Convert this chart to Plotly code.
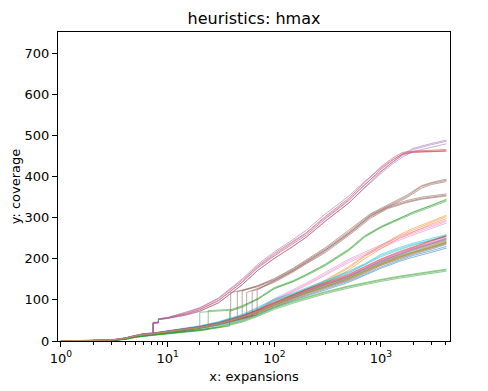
import plotly.graph_objects as go

# ---------------- data ----------------
XB = [1, 3, 4, 5, 7, 10, 15, 20, 30, 50, 70, 100, 150, 200, 300, 500, 700, 1000, 1500, 2000, 3000, 4100]

BLUE_1 = [0, 1, 5, 11, 16, 21, 26, 31, 39, 54, 67, 84, 101, 112, 126, 146, 162, 180, 197, 208, 220, 230]
BLUE_2 = [0, 2, 6, 12, 17, 22, 27, 32, 41, 56, 70, 87, 104, 115, 130, 149, 165, 184, 200, 211, 224, 235]
BLUE_3 = [0, 1, 5, 10, 15, 20, 25, 30, 38, 52, 65, 82, 99, 110, 124, 143, 160, 177, 194, 204, 216, 226]

ORANGE_1 = [0, 2, 7, 13, 18, 24, 29, 34, 43, 59, 73, 92, 110, 124, 145, 178, 205, 230, 256, 270, 289, 303]
ORANGE_2 = [0, 2, 6, 12, 17, 23, 28, 33, 42, 57, 71, 89, 107, 121, 141, 173, 200, 225, 251, 265, 285, 298]
ORANGE_3 = [0, 2, 7, 13, 18, 24, 30, 35, 44, 60, 74, 93, 112, 126, 148, 181, 208, 233, 259, 274, 292, 306]

GU_X1 = [1, 3, 4, 5, 7, 10, 15, 20, 20, 30, 40, 50, 70, 100, 150, 200, 300, 500, 700, 1000, 1500, 2000, 3000, 4100]
GU_Y1 = [0, 1, 5, 10, 15, 20, 24, 27, 70, 73, 75, 84, 104, 130, 147, 162, 187, 224, 256, 279, 299, 313, 330, 343]
GU_X2 = [1, 3, 4, 5, 7, 10, 15, 20, 24, 24, 40, 50, 70, 100, 150, 200, 300, 500, 700, 1000, 1500, 2000, 3000, 4100]
GU_Y2 = [0, 1, 4, 9, 14, 19, 23, 26, 28, 74, 77, 86, 102, 127, 144, 159, 183, 220, 252, 276, 296, 310, 327, 340]
GU_X3 = [1, 3, 4, 5, 7, 10, 15, 20, 30, 38, 38, 50, 70, 100, 150, 200, 300, 500, 700, 1000, 1500, 2000, 3000, 4100]
GU_Y3 = [0, 1, 5, 10, 15, 20, 25, 28, 33, 36, 72, 82, 101, 128, 145, 161, 185, 222, 254, 277, 298, 314, 331, 345]

XT = [1, 3, 4, 5, 6, 7.3, 7.3, 8.2, 8.2, 10, 15, 20, 30, 50, 70, 100, 150, 200, 300, 500, 700, 1000, 1300, 1600, 2000, 3000, 4100]
RED_1 = [0, 2, 7, 13, 18, 19, 44, 45, 53, 56, 66, 76, 98, 143, 178, 207, 236, 258, 297, 342, 379, 418, 441, 456, 460, 462, 463]
RED_2 = [0, 2, 7, 13, 17, 18, 43, 44, 52, 55, 64, 73, 93, 137, 172, 201, 230, 253, 291, 336, 373, 412, 436, 454, 459, 461, 462]
RED_3 = [0, 2, 7, 13, 18, 19, 45, 46, 54, 57, 69, 80, 103, 148, 183, 213, 242, 264, 303, 348, 385, 424, 446, 459, 462, 464, 466]
PURPLE_1 = [0, 2, 7, 13, 18, 19, 44, 45, 53, 56, 67, 77, 99, 144, 180, 210, 240, 262, 300, 344, 381, 414, 437, 452, 466, 478, 486]
PURPLE_2 = [0, 2, 7, 13, 18, 19, 45, 46, 54, 57, 70, 81, 105, 151, 187, 217, 247, 270, 309, 353, 388, 421, 442, 456, 469, 481, 489]
PURPLE_3 = [0, 2, 7, 12, 17, 18, 43, 44, 52, 55, 63, 72, 93, 137, 172, 201, 231, 253, 292, 336, 372, 408, 432, 448, 461, 472, 480]

BA_X1 = [1, 3, 4, 5, 7, 10, 15, 20, 30, 39, 39, 50, 70, 100, 150, 200, 300, 500, 800, 1150, 1750, 2400, 3000, 4100]
BA_Y1 = [0, 1, 6, 12, 17, 23, 29, 35, 45, 54, 118, 124, 134, 150, 175, 195, 224, 266, 308, 328, 352, 376, 384, 391]
BA_X2 = [1, 3, 4, 5, 7, 10, 15, 20, 30, 45, 45, 50, 70, 100, 150, 200, 300, 500, 800, 1150, 1750, 2400, 3000, 4100]
BA_Y2 = [0, 1, 6, 12, 17, 23, 28, 34, 44, 55, 120, 123, 132, 148, 172, 192, 221, 262, 305, 325, 349, 372, 381, 388]
BA_X3 = [1, 3, 4, 5, 7, 10, 15, 20, 30, 50, 50, 70, 100, 150, 200, 300, 500, 800, 1150, 1750, 2400, 3000, 4100]
BA_Y3 = [0, 1, 5, 11, 16, 22, 27, 33, 43, 57, 122, 135, 152, 177, 198, 227, 270, 310, 331, 355, 378, 386, 394]

PINK_1 = [0, 3, 7, 13, 18, 24, 29, 34, 44, 60, 75, 100, 122, 138, 163, 195, 212, 230, 250, 262, 278, 291]
PINK_2 = [0, 3, 7, 13, 18, 23, 28, 33, 43, 59, 74, 98, 120, 135, 160, 191, 208, 226, 246, 258, 274, 287]
PINK_3 = [0, 3, 8, 14, 19, 25, 30, 35, 45, 62, 77, 103, 125, 141, 167, 199, 216, 234, 254, 266, 282, 294]

GRAY_1 = [0, 2, 6, 12, 17, 23, 28, 33, 42, 58, 72, 90, 108, 120, 135, 155, 172, 190, 207, 218, 232, 243]
GRAY_2 = [0, 2, 6, 12, 18, 24, 29, 34, 43, 60, 74, 92, 110, 122, 138, 158, 175, 193, 210, 222, 236, 247]

OLIVE_1 = [0, 1, 6, 12, 17, 23, 28, 33, 41, 56, 70, 88, 106, 118, 133, 153, 170, 188, 205, 216, 229, 240]
OLIVE_2 = [0, 2, 6, 13, 18, 24, 29, 35, 44, 61, 75, 93, 111, 123, 139, 159, 176, 194, 211, 223, 237, 248]

CYAN_1 = [0, 2, 7, 13, 18, 24, 30, 36, 46, 63, 80, 100, 115, 127, 145, 168, 186, 208, 225, 235, 247, 256]
CYAN_2 = [0, 2, 7, 13, 18, 24, 29, 35, 45, 62, 78, 98, 113, 125, 143, 166, 184, 205, 222, 233, 245, 254]
CYAN_3 = [0, 2, 7, 14, 19, 25, 31, 37, 47, 65, 82, 102, 117, 129, 147, 170, 188, 211, 228, 238, 250, 259]

BLUE2_1 = [0, 1, 5, 11, 16, 22, 27, 32, 40, 55, 69, 87, 105, 117, 132, 151, 168, 186, 203, 214, 227, 238]
BLUE2_2 = [0, 2, 6, 12, 17, 22, 27, 32, 41, 57, 71, 89, 106, 118, 133, 153, 170, 188, 205, 216, 229, 240]

ORANGE2_1 = [0, 2, 6, 12, 17, 22, 27, 32, 40, 55, 68, 85, 102, 114, 129, 148, 166, 184, 201, 213, 226, 237]
ORANGE2_2 = [0, 2, 6, 12, 17, 23, 28, 33, 42, 57, 70, 88, 105, 117, 132, 152, 169, 187, 204, 216, 229, 241]

GREENLOW_1 = [0, 1, 4, 9, 14, 18, 22, 26, 34, 48, 62, 80, 95, 104, 118, 132, 140, 148, 156, 161, 167, 173]
GREENLOW_2 = [0, 1, 4, 9, 13, 17, 21, 25, 32, 46, 60, 77, 92, 101, 115, 129, 137, 145, 153, 158, 164, 170]
GREENLOW_3 = [0, 1, 5, 10, 14, 19, 23, 27, 35, 50, 64, 82, 97, 106, 120, 134, 142, 150, 158, 163, 169, 175]

RED2_1 = [0, 2, 6, 12, 18, 24, 29, 34, 43, 60, 75, 93, 111, 124, 140, 161, 179, 198, 216, 228, 243, 255]
RED2_2 = [0, 2, 7, 13, 18, 24, 30, 35, 44, 61, 76, 95, 113, 126, 142, 163, 181, 200, 218, 230, 245, 257]

PURPLE2_1 = [0, 2, 6, 12, 17, 23, 29, 34, 43, 59, 73, 91, 109, 122, 138, 158, 176, 195, 213, 225, 239, 250]
PURPLE2_2 = [0, 2, 6, 12, 17, 23, 28, 33, 42, 58, 72, 90, 108, 121, 137, 157, 175, 194, 211, 223, 237, 248]

BB_X1 = [1, 3, 4, 5, 7, 10, 15, 20, 30, 50, 55, 55, 70, 100, 150, 200, 300, 500, 800, 1150, 1750, 2400, 3000, 4100]
BB_Y1 = [0, 1, 6, 12, 17, 23, 28, 33, 42, 55, 58, 118, 128, 145, 170, 190, 218, 260, 302, 324, 339, 347, 351, 355]
BB_X2 = [1, 3, 4, 5, 7, 10, 15, 20, 30, 50, 62, 62, 70, 100, 150, 200, 300, 500, 800, 1150, 1750, 2400, 3000, 4100]
BB_Y2 = [0, 1, 6, 12, 17, 22, 27, 32, 41, 54, 60, 121, 126, 143, 168, 188, 215, 257, 299, 322, 337, 345, 349, 353]
BB_X3 = [1, 3, 4, 5, 7, 10, 15, 20, 30, 50, 69, 69, 100, 150, 200, 300, 500, 800, 1150, 1750, 2400, 3000, 4100]
BB_Y3 = [0, 2, 6, 12, 18, 23, 28, 34, 43, 57, 64, 124, 147, 172, 193, 221, 263, 305, 327, 342, 350, 354, 358]

PINK2_1 = [0, 3, 7, 13, 18, 23, 28, 33, 42, 58, 72, 90, 108, 121, 137, 157, 175, 194, 212, 224, 238, 250]
PINK2_2 = [0, 3, 7, 13, 18, 24, 29, 34, 43, 59, 73, 92, 110, 123, 139, 160, 178, 197, 214, 226, 240, 252]

GRAY2_1 = [0, 2, 6, 12, 17, 23, 28, 33, 42, 58, 72, 91, 109, 121, 136, 156, 173, 191, 208, 220, 234, 245]
OLIVE2_1 = [0, 2, 6, 12, 17, 22, 27, 32, 41, 57, 71, 89, 107, 119, 134, 154, 171, 189, 206, 217, 231, 242]

X_TICKS = [1, 10, 100, 1000]
X_TICK_TEXT = ["10<sup>0</sup>", "10<sup>1</sup>", "10<sup>2</sup>", "10<sup>3</sup>"]
X_MINOR = [2, 3, 4, 5, 6, 7, 8, 9, 20, 30, 40, 50, 60, 70, 80, 90,
           200, 300, 400, 500, 600, 700, 800, 900, 2000, 3000, 4000]
Y_TICKS = [0, 100, 200, 300, 400, 500, 600, 700]

# tab10 palette
C_BLUE, C_ORANGE, C_GREEN, C_RED, C_PURPLE = "#1f77b4", "#ff7f0e", "#2ca02c", "#d62728", "#9467bd"
C_BROWN, C_PINK, C_GRAY, C_OLIVE, C_CYAN = "#8c564b", "#e377c2", "#7f7f7f", "#bcbd22", "#17becf"

SERIES = [
    (C_BLUE, [(XB, BLUE_1), (XB, BLUE_2), (XB, BLUE_3)]),
    (C_ORANGE, [(XB, ORANGE_1), (XB, ORANGE_2), (XB, ORANGE_3)]),
    (C_GREEN, [(GU_X1, GU_Y1), (GU_X2, GU_Y2), (GU_X3, GU_Y3)]),
    (C_RED, [(XT, RED_1), (XT, RED_2), (XT, RED_3)]),
    (C_PURPLE, [(XT, PURPLE_1), (XT, PURPLE_2), (XT, PURPLE_3)]),
    (C_BROWN, [(BA_X1, BA_Y1), (BA_X2, BA_Y2), (BA_X3, BA_Y3)]),
    (C_PINK, [(XB, PINK_1), (XB, PINK_2), (XB, PINK_3)]),
    (C_GRAY, [(XB, GRAY_1), (XB, GRAY_2)]),
    (C_OLIVE, [(XB, OLIVE_1), (XB, OLIVE_2)]),
    (C_CYAN, [(XB, CYAN_1), (XB, CYAN_2), (XB, CYAN_3)]),
    (C_BLUE, [(XB, BLUE2_1), (XB, BLUE2_2)]),
    (C_ORANGE, [(XB, ORANGE2_1), (XB, ORANGE2_2)]),
    (C_GREEN, [(XB, GREENLOW_1), (XB, GREENLOW_2), (XB, GREENLOW_3)]),
    (C_RED, [(XB, RED2_1), (XB, RED2_2)]),
    (C_PURPLE, [(XB, PURPLE2_1), (XB, PURPLE2_2)]),
    (C_BROWN, [(BB_X1, BB_Y1), (BB_X2, BB_Y2), (BB_X3, BB_Y3)]),
    (C_PINK, [(XB, PINK2_1), (XB, PINK2_2)]),
    (C_GRAY, [(XB, GRAY2_1)]),
    (C_OLIVE, [(XB, OLIVE2_1)]),
]

# ---------------- figure ----------------
fig = go.Figure()
for color, runs in SERIES:
    for xs, ys in runs:
        fig.add_trace(go.Scatter(
            x=xs, y=ys, mode="lines",
            line=dict(color=color, width=0.8),
            opacity=0.65, showlegend=False, hoverinfo="skip",
        ))

# the page body adds an 8px margin, so the figure is 8px smaller each way
W, H = 480, 383
FONT = "DejaVu Sans, Liberation Sans, sans-serif"
fig.update_layout(
    width=W, height=H,
    margin=dict(l=50, r=38, t=24, b=50, autoexpand=False),
    paper_bgcolor="white", plot_bgcolor="white",
    font=dict(family=FONT, size=13, color="black"),
    title=dict(text="heuristics: hmax", x=0.5, xref="paper", xanchor="center",
               y=1 - 10 / H, yref="container", yanchor="middle",
               font=dict(family=FONT, size=16, color="black")),
)
fig.update_xaxes(
    type="log", range=[-0.028, 3.647], automargin=False,
    tickmode="array", tickvals=X_TICKS, ticktext=X_TICK_TEXT,
    ticks="outside", ticklen=5, tickwidth=1, tickcolor="black",
    minor=dict(tickmode="array", tickvals=X_MINOR, ticks="outside",
               ticklen=3, tickwidth=0.8, tickcolor="black", showgrid=False),
    showline=True, linecolor="black", linewidth=1, mirror=True,
    showgrid=False, zeroline=False,
    title=dict(text="x: expansions", standoff=7, font=dict(size=13)),
    tickfont=dict(size=13),
)
fig.update_yaxes(
    range=[0, 752], automargin=False,
    tickmode="array", tickvals=Y_TICKS,
    ticks="outside", ticklen=5, tickwidth=1, tickcolor="black",
    showline=True, linecolor="black", linewidth=1, mirror=True,
    showgrid=False, zeroline=False,
    title=dict(text="y: coverage", standoff=6, font=dict(size=13)),
    tickfont=dict(size=13),
)

fig.write_html("out.html")
